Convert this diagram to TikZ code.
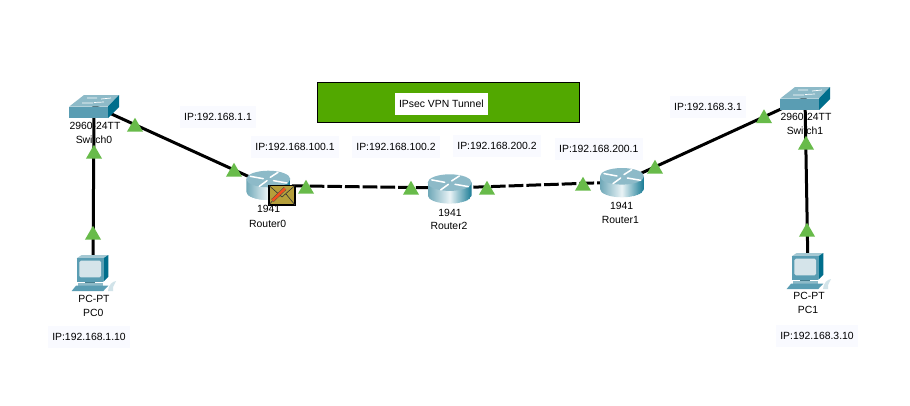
\documentclass[tikz,border=0pt]{standalone}
\usepackage{fontspec}
\setmainfont{Liberation Sans}
\usetikzlibrary{shapes.geometric}
\definecolor{trigreen}{HTML}{68BB4A}
\definecolor{tunnelgreen}{HTML}{52A800}
\definecolor{ghost}{HTML}{F9FAFF}
\definecolor{iconlight}{HTML}{8DBAC8}
\definecolor{iconmid}{HTML}{5A9DB3}
\definecolor{icondark}{HTML}{006E8C}
\definecolor{bodyleft}{HTML}{6FA8B8}
\definecolor{bodypale}{HTML}{E6F1F4}
\definecolor{bodyright}{HTML}{1F7F98}
\definecolor{screenc}{HTML}{D5E4EA}
\definecolor{gold}{HTML}{B59F3B}
\definecolor{pencil}{HTML}{F0501E}
\tikzset{
 link/.style={line width=3pt,black},
 tunnel/.style={link,dash pattern=on 14.7pt off 3pt,dash phase=11.8pt},
 tri/.style={regular polygon,regular polygon sides=3,minimum size=18.5pt,inner sep=0pt,outer sep=0pt,fill=trigreen},
 dev/.style={inner sep=0pt,minimum size=0pt},
 txt/.style={font=\fontsize{10.4}{12}\selectfont,inner sep=0pt,text=black,text height=7.6pt,text depth=0pt},
 ipbox/.style={txt,fill=ghost,minimum height=22pt},
 arrowline/.style={white,line width=1.5pt,line cap=round},
 pics/routericon/.style={code={
  \begin{scope}
  \clip (-22,0) -- (-22,12.7) .. controls (-22,17.3) and (-12.2,21) .. (0,21) .. controls (12.2,21) and (22,17.3) .. (22,12.7) -- (22,0) -- cycle;
  \foreach \i in {0,...,21}{
    \pgfmathtruncatemacro{\p}{100*\i/21}
    \path[fill={bodypale!\p!bodyleft}] (-22+\i,-1) rectangle (-20.6+\i,22);
    \path[fill={bodyright!\p!bodypale}] (\i,-1) rectangle (1.4+\i,22);
  }
  \end{scope}
  \path[fill=iconlight] (0,0) ellipse[x radius=22,y radius=8.3];
  \draw[arrowline] (-18,-2.7) -- (-5,-.3);
  \draw[arrowline] (2,-1.7) -- (9.7,-6.7);
  \draw[arrowline] (5.3,1.7) -- (18.7,4);
  \draw[arrowline] (-9,7.3) -- (-1.3,1.7);
 }},
 pics/switchicon/.style={code={
  \path[fill=iconlight] (-24.7,.5) -- (-10,-11) -- (25,-11) -- (14,.5) -- cycle;
  \path[fill=iconmid] (-24.7,.5) rectangle (14,12);
  \path[fill=icondark] (14,.5) -- (25,-11) -- (25,1) -- (14,12) -- cycle;
  \draw[white,line width=.7pt] (-12,-3) -- (-1,-3) (-7,-8) -- (3,-8) (7,-7) -- (17,-8) (0,-3.5) -- (10,-4);
 }},
 pics/pcicon/.style={code={
  \path[fill=iconlight!80!white] (-16.3,-13.7) -- (-11.3,-17) -- (15.3,-17) -- (10.3,-13.7) -- cycle;
  \path[fill=iconmid] (-16.3,-13.7) rectangle (10.3,9.7);
  \path[fill=icondark] (10.3,-13.7) -- (15.3,-17) -- (15.3,4.7) -- (10.3,9.7) -- cycle;
  \path[fill=screenc,rounded corners=1.5pt] (-13.7,-11.3) rectangle (8,5.3);
  \path[fill=iconmid!80!black] (-8,9.7) rectangle (2,11.5);
  \path[fill=iconlight] (-14.7,11) -- (10.3,11) -- (10.3,13.7) -- (-14.7,13.7) -- cycle;
  \path[fill=iconmid] (-17,13.7) -- (15.3,13.7) -- (10.3,19) -- (-21.3,19) -- cycle;
  \path[fill=iconlight!40!white] (15,19) .. controls (16,12) and (19,10) .. (23,9) -- (22,11) .. controls (20,13) and (20,16) .. (20,19) -- cycle;
 }},
}
\begin{document}
\begin{tikzpicture}[x=1pt,y=-1pt]
\useasboundingbox (0,0) rectangle (910,405);
\path[fill=white] (0,0) rectangle (910,405);
% device anchors
\node[dev] (sw0) at (94,106) {};
\node[dev] (sw1) at (805,98) {};
\node[dev] (r0) at (268.3,185.5) {};
\node[dev] (r2) at (449.7,188) {};
\node[dev] (r1) at (622,182) {};
\node[dev] (pc0) at (93,272) {};
\node[dev] (pc1) at (808,270) {};
% links
\draw[link] (sw0.center) -- (pc0.center);
\draw[link] (sw0.center) -- (r0.center);
\draw[tunnel] (r0.center) -- (r2.center);
\draw[tunnel] (r2.center) -- (r1.center);
\draw[link] (r1.center) -- (sw1.center);
\draw[link] (sw1.center) -- (pc1.center);
% icons
\pic at (94,106) {switchicon};
\pic at (805,98) {switchicon};
\pic at (268.3,179) {routericon};
\pic at (449.7,182.6) {routericon};
\pic at (622,176.3) {routericon};
\pic at (93,272) {pcicon};
\pic at (808,270) {pcicon};
% envelope
\draw[line width=1.6pt,fill=gold] (269,185.5) rectangle (295,205);
\draw[black!80,line width=.6pt] (269,185.5) -- (282,197) -- (295,185.5) (269,205) -- (278,194) (295,205) -- (286,194);
\draw[black!70,line width=3.6pt] (272.5,200.5) -- (285,188.5);
\draw[pencil,line width=2.6pt] (272.5,200.5) -- (285,188.5);
% tunnel box
\node[draw=black,line width=.9pt,fill=tunnelgreen,minimum width=262pt,minimum height=40pt,inner sep=0pt] (tbox) at (448.3,102.3) {};
\node[ipbox,fill=white,minimum width=92.7pt] (tlabel) at (441.3,104) {IPsec VPN Tunnel};
% IP labels
\node[ipbox,minimum width=76pt] (ip1) at (218,117) {IP:192.168.1.1};
\node[ipbox,minimum width=88pt] (ip2) at (295,147) {IP:192.168.100.1};
\node[ipbox,minimum width=88pt] (ip3) at (396,147) {IP:192.168.100.2};
\node[ipbox,minimum width=88pt] (ip4) at (497,146) {IP:192.168.200.2};
\node[ipbox,minimum width=88pt] (ip5) at (598.8,149) {IP:192.168.200.1};
\node[ipbox,minimum width=76pt] (ip6) at (708,107) {IP:192.168.3.1};
\node[ipbox,minimum width=82.3pt] (ip7) at (89,337) {IP:192.168.1.10};
\node[ipbox,minimum width=82.3pt] (ip8) at (817,336) {IP:192.168.3.10};
% device labels
\node[txt] (l1) at (95,126) {2960-24TT};
\node[txt] (l2) at (94,140) {Switch0};
\node[txt] (l3) at (268.7,209) {1941};
\node[txt] (l4) at (267.7,223.3) {Router0};
\node[txt] (l5) at (450,212.3) {1941};
\node[txt] (l6) at (449,226) {Router2};
\node[txt] (l7) at (621.7,206) {1941};
\node[txt] (l8) at (620.3,220) {Router1};
\node[txt] (l9) at (806,117) {2960-24TT};
\node[txt] (l10) at (805,131) {Switch1};
\node[txt] (l11) at (94,299) {PC-PT};
\node[txt] (l12) at (93.3,313) {PC0};
\node[txt] (l13) at (809,296) {PC-PT};
\node[txt] (l14) at (808,310) {PC1};
% link lights
\node[tri] (t1) at (94,154) {};
\node[tri] (t2) at (93,235) {};
\node[tri] (t3) at (135,127) {};
\node[tri] (t4) at (234,172) {};
\node[tri] (t5) at (306,189) {};
\node[tri] (t6) at (411,190) {};
\node[tri] (t7) at (487,190) {};
\node[tri] (t8) at (583,186) {};
\node[tri] (t9) at (655,169) {};
\node[tri] (t10) at (764,118.5) {};
\node[tri] (t11) at (806,145) {};
\node[tri] (t12) at (807,232) {};
\end{tikzpicture}
\end{document}
